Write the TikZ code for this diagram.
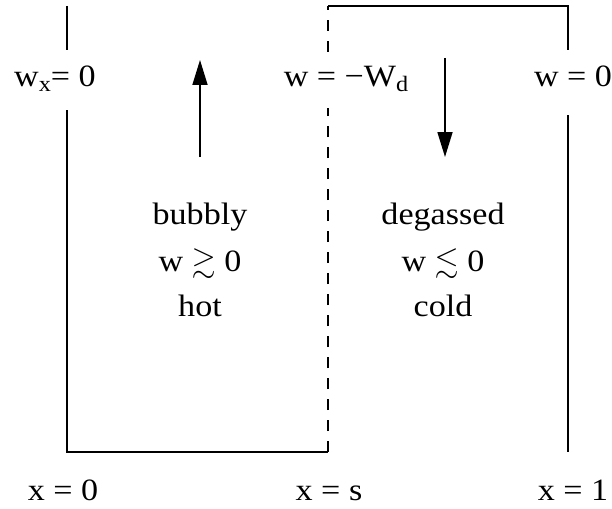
\documentclass[tikz,border=0pt]{standalone}
\usepackage{amssymb}
\usepackage{fontspec}
\setmainfont{Liberation Serif}[FakeStretch=1.1]
\usetikzlibrary{arrows.meta}
\newcommand{\lowsub}[1]{\raisebox{-0.32ex}{\fontsize{22}{22}\selectfont #1}}

\begin{document}
\begin{tikzpicture}[
        x=1pt, y=-1pt,
        wall/.style={line width=1.7pt},
        interface/.style={line width=1.7pt, dash pattern=on 11pt off 10pt},
        flow/.style={line width=1.7pt, -{Triangle[length=25pt,width=15pt]}},
        lab/.style={anchor=base, inner sep=0pt, font=\fontsize{31}{36}\selectfont}
      ]
      \useasboundingbox (0,0) rectangle (612,508);

      % walls of the box
      \coordinate (lTop) at (67,6);   \coordinate (lGapA) at (67,50);
      \coordinate (lGapB) at (67,110); \coordinate (lBot) at (67,452);
      \coordinate (sTop) at (328,6);  \coordinate (sGapA) at (328,52);
      \coordinate (sGapB) at (328,108); \coordinate (sBot) at (328,452);
      \coordinate (rTop) at (568,6);  \coordinate (rGapA) at (568,50);
      \coordinate (rGapB) at (568,115); \coordinate (rBot) at (568,452);

      \draw[wall] (lTop) -- (lGapA);
      \draw[wall] (lGapB) -- (lBot) -- (sBot);
      \draw[wall] (sTop) -- (rTop) -- (rGapA);
      \draw[wall] (rGapB) -- (rBot);
      \draw[interface] (sBot) -- (sGapB);
      \draw[interface] (sGapA) -- (sTop);

      % flow arrows
      \coordinate (upFrom) at (200,157); \coordinate (upTo) at (200,60);
      \coordinate (downFrom) at (445,58); \coordinate (downTo) at (445,157);
      \draw[flow] (upFrom) -- (upTo);
      \draw[flow] (downFrom) -- (downTo);

      % boundary conditions
      \node[lab] (bcLeft)  at ( 55,87) {w\lowsub{x}= 0};
      \node[lab] (bcMid)   at (346,87) {w = −W\lowsub{d}};
      \node[lab] (bcRight) at (573,87) {w = 0};

      % regions
      \node[lab] (bubbly) at (200,224) {bubbly};
      \node[lab] (wPos)   at (200,271) {w $\gtrsim$ 0};
      \node[lab] (hot)    at (200,316) {hot};
      \node[lab] (degas)  at (443,224) {degassed};
      \node[lab] (wNeg)   at (443,271) {w $\lesssim$ 0};
      \node[lab] (cold)   at (443,316) {cold};

      % positions
      \node[lab] (xZero) at ( 63,500) {x = 0};
      \node[lab] (xS)    at (329,500) {x = s};
      \node[lab] (xOne)  at (573,500) {x = 1};

    \end{tikzpicture}
\end{document}
